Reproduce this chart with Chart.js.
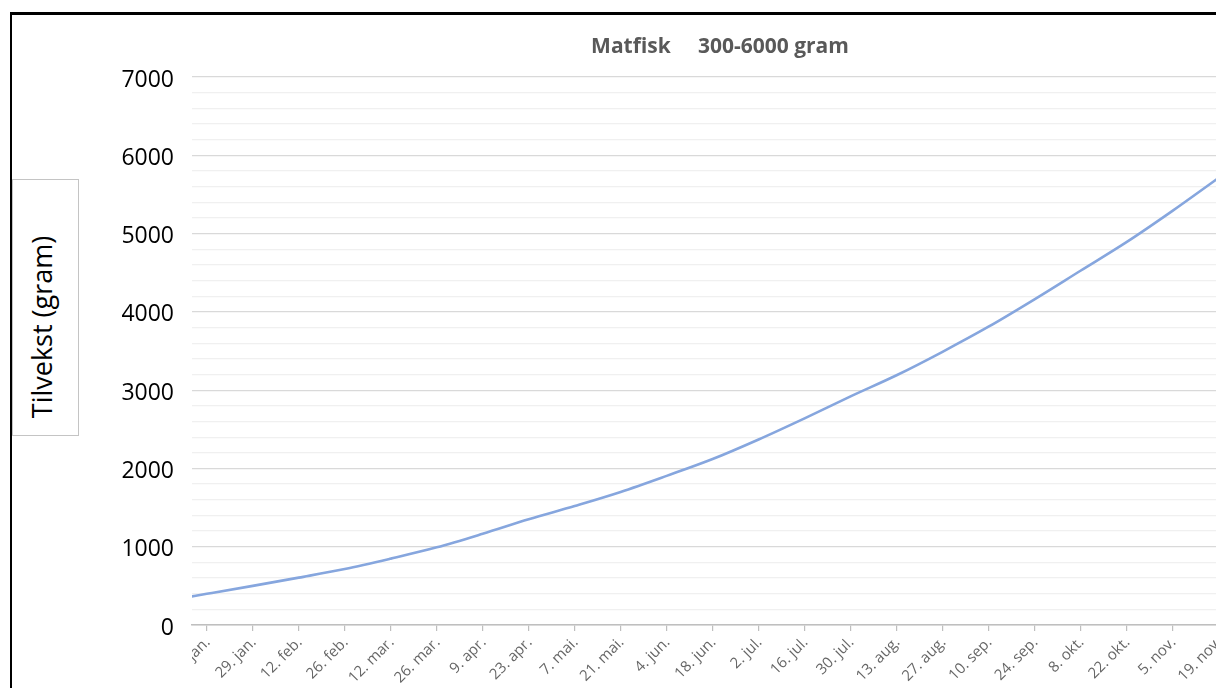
<!DOCTYPE html>
<html lang="no">
<head>
<meta charset="utf-8">
<title>Matfisk 300-6000 gram</title>
<script src="https://cdn.jsdelivr.net/npm/chart.js@4.4.1/dist/chart.umd.min.js"></script>
<style>
  html, body { margin: 0; padding: 0; background: #fff; overflow: hidden; width: 1216px; height: 688px; }
  #frame { position: absolute; left: 10px; top: 12px; width: 1400px; height: 900px;
           border-left: 2px solid #000; border-top: 3px solid #000; }
  #wrap { position: absolute; left: 0; top: 0; width: 1300px; height: 720px; }
  #ytitle { position: absolute; left: 12px; top: 179px; width: 67px; height: 257px;
            border: 1px solid #c4c4c4; background: #fff; box-sizing: border-box; }
  #ytitle span { position: absolute; left: 28px; top: 147px; white-space: nowrap;
                 transform: translate(-50%, -50%) rotate(-90deg);
                 font: 27px "Open Sans", sans-serif; color: #000; }
</style>
</head>
<body>
<div id="frame"></div>
<div id="wrap"><canvas id="c" width="1300" height="720"></canvas></div>
<div id="ytitle"><span>Tilvekst (gram)</span></div>
<script>
// Days counted from 15. jan.; labels sit every 14 days
const tickLabels = ["15. jan.", "29. jan.", "12. feb.", "26. feb.", "12. mar.", "26. mar.",
  "9. apr.", "23. apr.", "7. mai.", "21. mai.", "4. jun.", "18. jun.", "2. jul.", "16. jul.",
  "30. jul.", "13. aug.", "27. aug.", "10. sep.", "24. sep.", "8. okt.", "22. okt.",
  "5. nov.", "19. nov."];
const tickDays = [0, 14, 28, 42, 56, 70, 84, 98, 112, 126, 140, 154, 168, 182, 196,
  210, 224, 238, 252, 266, 280, 294, 308];

// Growth curve: fish weight (gram) per day
const sampleDays = [-5, 0, 14, 28, 42, 56, 70, 84, 98, 112, 126, 140, 154, 168, 182,
  196, 210, 224, 238, 252, 266, 280, 294, 308];
const weights = [362, 398, 500, 605, 715, 848, 992, 1165, 1350, 1520, 1700, 1905, 2120,
  2370, 2640, 2920, 3190, 3490, 3810, 4160, 4525, 4890, 5290, 5710];

const yTicks = [0, 1000, 2000, 3000, 4000, 5000, 6000, 7000];

const points = sampleDays.map((d, i) => ({ x: d, y: weights[i] }));

// Rotated date labels, clipped to the plot's left edge
const dateLabels = {
  id: 'dateLabels',
  afterDraw(chart) {
    const xs = chart.scales.x;
    const ctx = chart.ctx;
    ctx.save();
    ctx.beginPath();
    ctx.rect(xs.left, xs.top, chart.width - xs.left, chart.height - xs.top);
    ctx.clip();
    ctx.font = '15px "Open Sans", sans-serif';
    ctx.fillStyle = '#666666';
    ctx.textAlign = 'right';
    ctx.textBaseline = 'middle';
    tickLabels.forEach((lab, i) => {
      const px = xs.getPixelForValue(tickDays[i]);
      ctx.save();
      ctx.translate(px + 1, xs.top + 15);
      ctx.rotate(-Math.PI / 4);
      ctx.fillText(lab, 0, 0);
      ctx.restore();
    });
    ctx.restore();
  }
};

new Chart(document.getElementById('c'), {
  type: 'line',
  data: {
    datasets: [{
      data: points,
      borderColor: '#86a6de',
      borderWidth: 2.6,
      pointRadius: 0,
      cubicInterpolationMode: 'monotone',
      fill: false
    }]
  },
  options: {
    responsive: false,
    animation: false,
    events: [],
    layout: { padding: { left: 0, right: 52, top: 0, bottom: 0 } },
    plugins: {
      legend: { display: false },
      tooltip: { enabled: false },
      title: {
        display: true,
        fullSize: false,
        text: 'Matfisk     300-6000 gram',
        color: '#595959',
        font: { family: '"Open Sans", sans-serif', size: 21, weight: 'bold' },
        padding: { top: 34, bottom: 17.8 }
      }
    },
    scales: {
      x: {
        type: 'linear',
        min: -4.5,
        max: 317,
        afterBuildTicks: (s) => { s.ticks = tickDays.map(v => ({ value: v })); },
        afterFit: (s) => { s.height = 95; },
        ticks: { display: false, autoSkip: false },
        grid: { drawOnChartArea: false, drawTicks: true, tickLength: 6, color: '#bfbfbf', lineWidth: 1.2 },
        border: { display: true, color: '#bfbfbf', width: 1.5 }
      },
      y: {
        min: 0,
        max: 7000,
        afterBuildTicks: (s) => {
          const t = [];
          for (let v = 0; v <= 7000; v += 200) t.push({ value: v });
          s.ticks = t;
        },
        afterFit: (s) => { s.width = 192; },
        ticks: {
          autoSkip: false,
          padding: 18,
          labelOffset: 3,
          color: '#000',
          font: { family: '"Open Sans", sans-serif', size: 23 },
          callback: (v) => (yTicks.includes(v) ? String(v) : '')
        },
        grid: {
          drawTicks: false,
          color: (c) => (yTicks.includes(c.tick.value) ? '#d9d9d9' : '#f0f0f0'),
          lineWidth: 1.2
        },
        border: { display: false }
      }
    }
  },
  plugins: [dateLabels]
});
</script>
</body>
</html>
